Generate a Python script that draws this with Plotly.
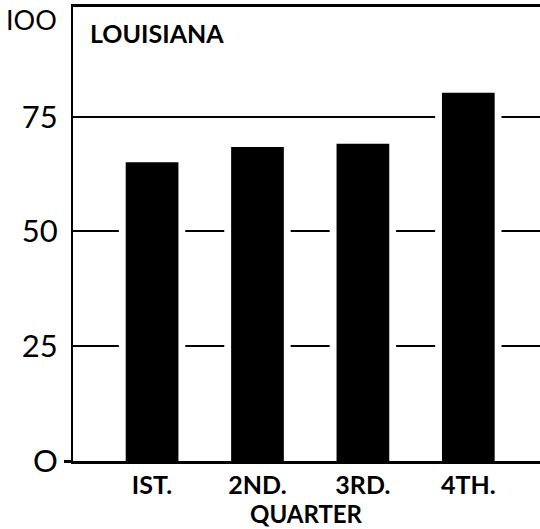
import plotly.graph_objects as go

# Quarterly index values, Louisiana
quarters = ["IST.", "2ND.", "3RD.", "4TH."]
values = [65.1, 68.4, 69.1, 80.2]
y_ticks = [0, 25, 50, 75]
y_tick_text = ["O", "25", "50", "75"]

FONT = "Lato"

fig = go.Figure()

# wide white bars keep a clear margin between the grid lines and the bars
fig.add_trace(go.Bar(x=quarters, y=values, width=0.63,
                     marker=dict(color="white", line=dict(width=0)),
                     hoverinfo="skip", showlegend=False))
fig.add_trace(go.Bar(x=quarters, y=values, width=0.5,
                     marker=dict(color="black", line=dict(width=0)),
                     showlegend=False))

fig.update_layout(
    width=540, height=529,
    margin=dict(l=73, r=0, t=7, b=68),
    paper_bgcolor="white", plot_bgcolor="white",
    barmode="overlay",
    font=dict(family=FONT, color="black"),
    xaxis=dict(
        range=[-0.75, 3.68],
        showline=True, linecolor="black", linewidth=3, mirror=True,
        showgrid=False, ticks="",
        tickfont=dict(size=25, family=FONT, weight="bold"),
        ticklabelstandoff=0,
    ),
    yaxis=dict(
        range=[0, 98.9],
        tickvals=y_ticks, ticktext=y_tick_text,
        showline=True, linecolor="black", linewidth=2,
        showgrid=True, gridcolor="black", gridwidth=2,
        zeroline=False, ticks="",
        tickfont=dict(size=31, family=FONT),
        ticklabelstandoff=7,
    ),
    # short outside tick marking the baseline
    yaxis2=dict(
        overlaying="y", side="left", range=[0, 98.9],
        tickvals=[0], ticks="outside", ticklen=8, tickwidth=3,
        tickcolor="black", showticklabels=False, showgrid=False,
        zeroline=False, showline=False,
    ),
    annotations=[
        dict(text="<b>LOUISIANA</b>", xref="paper", yref="paper",
             x=0, y=1, xanchor="left", yanchor="middle",
             xshift=15, yshift=-26, showarrow=False,
             font=dict(size=25, family=FONT)),
        dict(text="IOO", xref="paper", yref="paper",
             x=0, y=1, xanchor="right", yanchor="middle",
             xshift=-14, yshift=-12, showarrow=False,
             font=dict(size=27, family=FONT)),
        dict(text="<b>QUARTER</b>", xref="paper", yref="paper",
             x=0.5, y=0, xanchor="center", yanchor="middle",
             yshift=-52, showarrow=False,
             font=dict(size=24, family=FONT)),
    ],
)

# invisible trace so the baseline tick axis is drawn
fig.add_trace(go.Scatter(x=[quarters[0]], y=[0], yaxis="y2", mode="markers",
                         marker=dict(opacity=0), hoverinfo="skip",
                         showlegend=False))

fig.write_html("out.html")
